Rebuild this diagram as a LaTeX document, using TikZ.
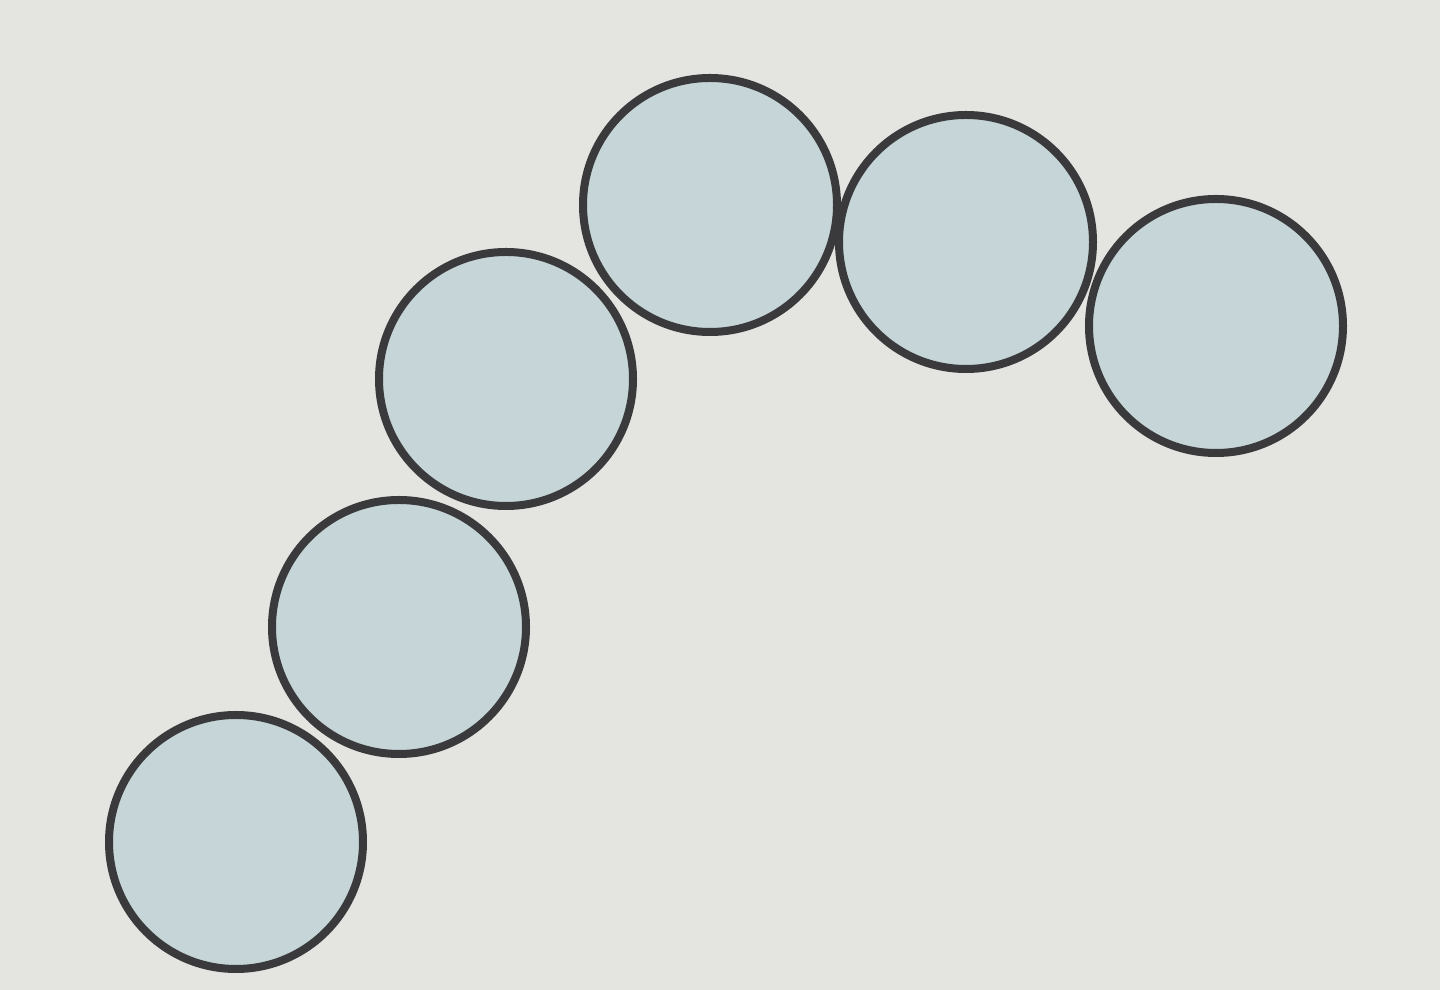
\documentclass[tikz,border=0pt]{standalone}
\usepackage{tikz}
\definecolor{paper}{RGB}{228,228,225}
\definecolor{cellfill}{RGB}{197,213,216}
\definecolor{cellline}{RGB}{58,58,60}

\begin{document}
\begin{tikzpicture}
    \fill[paper] (0,0) rectangle (14.4,9.9);
    \useasboundingbox (0,0) rectangle (14.4,9.9);
    \foreach \x/\y in {2.36/1.48, 3.99/3.63, 5.06/6.11, 7.10/7.85, 9.66/7.48, 12.16/6.64} {
        \draw[cellline, fill=cellfill, line width=0.08cm] (\x,\y) circle (1.27cm);
    }
\end{tikzpicture}
\end{document}
